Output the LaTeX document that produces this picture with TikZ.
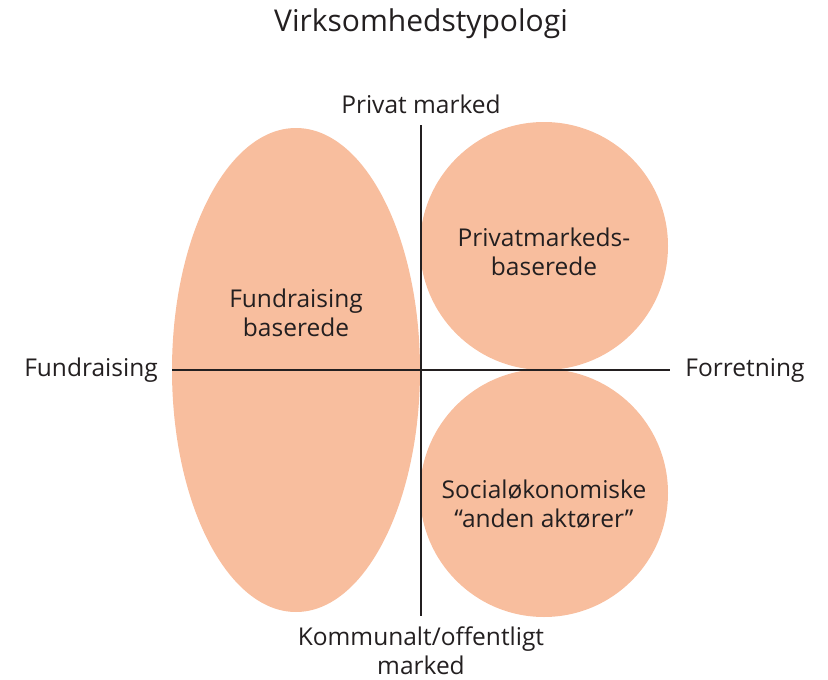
\documentclass[tikz,border=0pt]{standalone}
\usepackage{fontspec}
\setmainfont{Open Sans}
\begin{document}
\begin{tikzpicture}[x=1pt,y=-1pt,
  lbl/.style={text=txt,font=\fontsize{24.5}{29}\selectfont,align=center,inner sep=0pt},
  axis/.style={draw=txt,line width=1.1pt}]
\definecolor{blobfill}{HTML}{F8BE9E}
\definecolor{txt}{HTML}{231F20}
\useasboundingbox (0,0) rectangle (828,680);
\fill[blobfill] (296,370) ellipse [x radius=124, y radius=242];
\fill[blobfill] (544,246) circle [radius=124];
\fill[blobfill] (544,493) circle [radius=124];
\coordinate (vt) at (421,125);
\coordinate (vb) at (421,616);
\coordinate (hl) at (172,370);
\coordinate (hr) at (670,370);
\draw[axis] (vt) -- (vb);
\draw[axis] (hl) -- (hr);
\node[lbl,font=\fontsize{30}{34}\selectfont] (title) at (421,24) {Virksomhedstypologi};
\node[lbl] (top) at (421,104) {Privat marked};
\node[lbl] (left) at (91,370) {Fundraising};
\node[lbl] (right) at (745,370) {Forretning};
\node[lbl] (bottom) at (421,651) {Kommunalt/offentligt\\marked};
\node[lbl] (fb) at (296,313) {Fundraising\\baserede};
\node[lbl] (pm) at (544,252) {Privatmarkeds-\\baserede};
\node[lbl] (so) at (544,504) {Socialøkonomiske\\“anden aktører”};
\end{tikzpicture}
\end{document}
